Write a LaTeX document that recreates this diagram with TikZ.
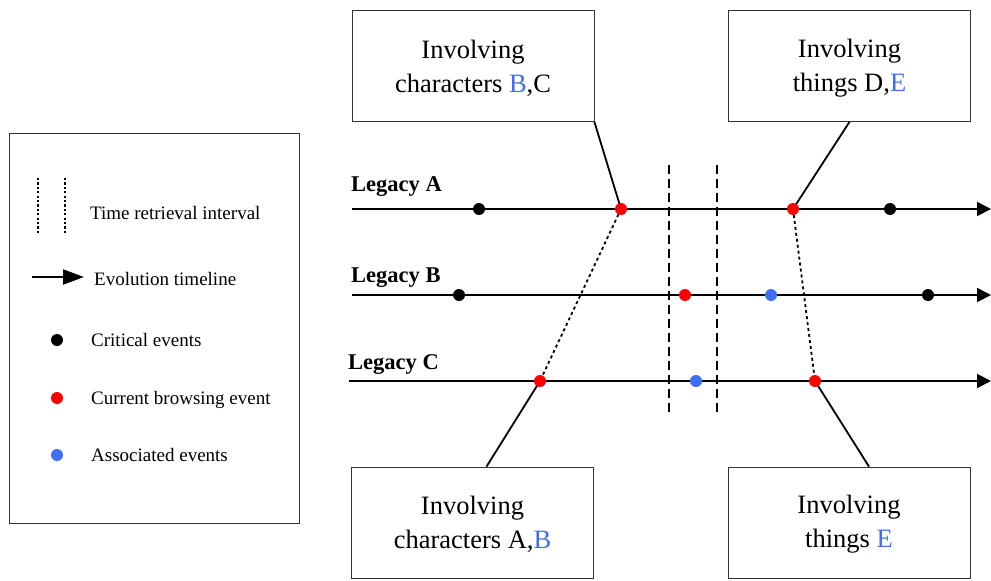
\documentclass[tikz,border=0pt]{standalone}
\usepackage{fontspec}
\setmainfont{Liberation Serif}
\usetikzlibrary{arrows.meta}
\definecolor{assoc}{HTML}{3E6EF2}
\definecolor{cur}{HTML}{FF0000}
\newcommand{\boxtext}[1]{\parbox{230pt}{\centering\vspace*{4pt}#1}}
\begin{document}
\begin{tikzpicture}[x=1pt,y=-1pt,
  box/.style={draw=black!80,line width=0.8pt,minimum width=242pt,minimum height=111pt,inner sep=0pt,align=center,font=\fontsize{26.5}{34}\selectfont},
  ev/.style={circle,inner sep=0pt,minimum size=12pt},
  crit/.style={ev,fill=black},
  curr/.style={ev,fill=cur},
  asso/.style={ev,fill=assoc},
  tline/.style={line width=2pt,-{Triangle[length=14pt,width=14pt]}},
  conn/.style={line width=1.8pt},
  dconn/.style={line width=1.8pt,dash pattern=on 3pt off 3pt},
  vdash/.style={line width=1.1pt,dash pattern=on 9pt off 5pt},
  legtxt/.style={anchor=west,inner sep=0pt,font=\fontsize{19}{22}\selectfont},
  leglbl/.style={anchor=west,inner sep=0pt,font=\bfseries\fontsize{22.5}{25}\selectfont}]
\useasboundingbox (0,0) rectangle (991,581);
% legend
\node[draw=black!80,line width=0.8pt,minimum width=290pt,minimum height=390pt,inner sep=0pt] (leg) at (154,328) {};
\draw[line width=2pt,dash pattern=on 2.2pt off 2.2pt] (38,178) -- (38,233);
\draw[line width=2pt,dash pattern=on 2.2pt off 2.2pt] (65,178) -- (65,233);
\node[legtxt] (lt1) at (90,213) {Time retrieval interval};
\coordinate (la1) at (32,277);
\coordinate (la2) at (84,277);
\draw[line width=2pt,-{Triangle[length=21pt,width=15pt]}] (la1) -- (la2);
\node[legtxt] (lt2) at (94,279) {Evolution timeline};
\node[crit] (ld1) at (57,340) {};
\node[legtxt] (lt3) at (91,340) {Critical events};
\node[curr] (ld2) at (57,398) {};
\node[legtxt] (lt4) at (91,400) {Current browsing event};
\node[asso] (ld3) at (57,455) {};
\node[legtxt] (lt5) at (91,455) {Associated events};
% timelines
\coordinate (sA) at (352,209); \coordinate (eA) at (991,209);
\coordinate (sB) at (352,295); \coordinate (eB) at (991,295);
\coordinate (sC) at (349,381); \coordinate (eC) at (991,381);
\draw[tline] (sA) -- (eA);
\draw[tline] (sB) -- (eB);
\draw[tline] (sC) -- (eC);
\node[leglbl] (lA) at (351,187) {Legacy A};
\node[leglbl] (lB) at (351,278) {Legacy B};
\node[leglbl] (lC) at (348,365) {Legacy C};
% retrieval interval
\coordinate (v1t) at (669,165); \coordinate (v1b) at (669,415);
\coordinate (v2t) at (717,165); \coordinate (v2b) at (717,415);
\draw[vdash] (v1t) -- (v1b);
\draw[vdash] (v2t) -- (v2b);
% boxes
\node[box] (tl) at (473,66) {\boxtext{Involving\\characters \textcolor{assoc}{B},C}};
\node[box] (tr) at (849.5,66) {\boxtext{Involving\\things D,\textcolor{assoc}{E}}};
\node[box] (bl) at (472.5,522.5) {\boxtext{Involving\\characters A,\textcolor{assoc}{B}}};
\node[box] (br) at (849,522.5) {\boxtext{Involving\\things \textcolor{assoc}{E}}};
% connectors (drawn before dots)
\coordinate (a2p) at (621,209);
\coordinate (a3p) at (793,209);
\coordinate (c1p) at (540,381);
\coordinate (c3p) at (815,381);
\draw[conn] (tl.south east) -- (a2p);
\draw[conn] (tr.south) -- (a3p);
\draw[conn] ([xshift=14pt]bl.north) -- (c1p);
\draw[conn] ([xshift=20pt]br.north) -- (c3p);
\draw[dconn] (a2p) -- (c1p);
\draw[dconn] (a3p) -- (c3p);
% events
\node[crit] (a1) at (479,209) {};
\node[curr] (a2) at (a2p) {};
\node[curr] (a3) at (a3p) {};
\node[crit] (a4) at (890,209) {};
\node[crit] (b1) at (459,295) {};
\node[curr] (b2) at (685,295) {};
\node[asso] (b3) at (771,295) {};
\node[crit] (b4) at (928,295) {};
\node[curr] (c1) at (c1p) {};
\node[asso] (c2) at (696,381) {};
\node[curr] (c3) at (c3p) {};
\end{tikzpicture}
\end{document}
